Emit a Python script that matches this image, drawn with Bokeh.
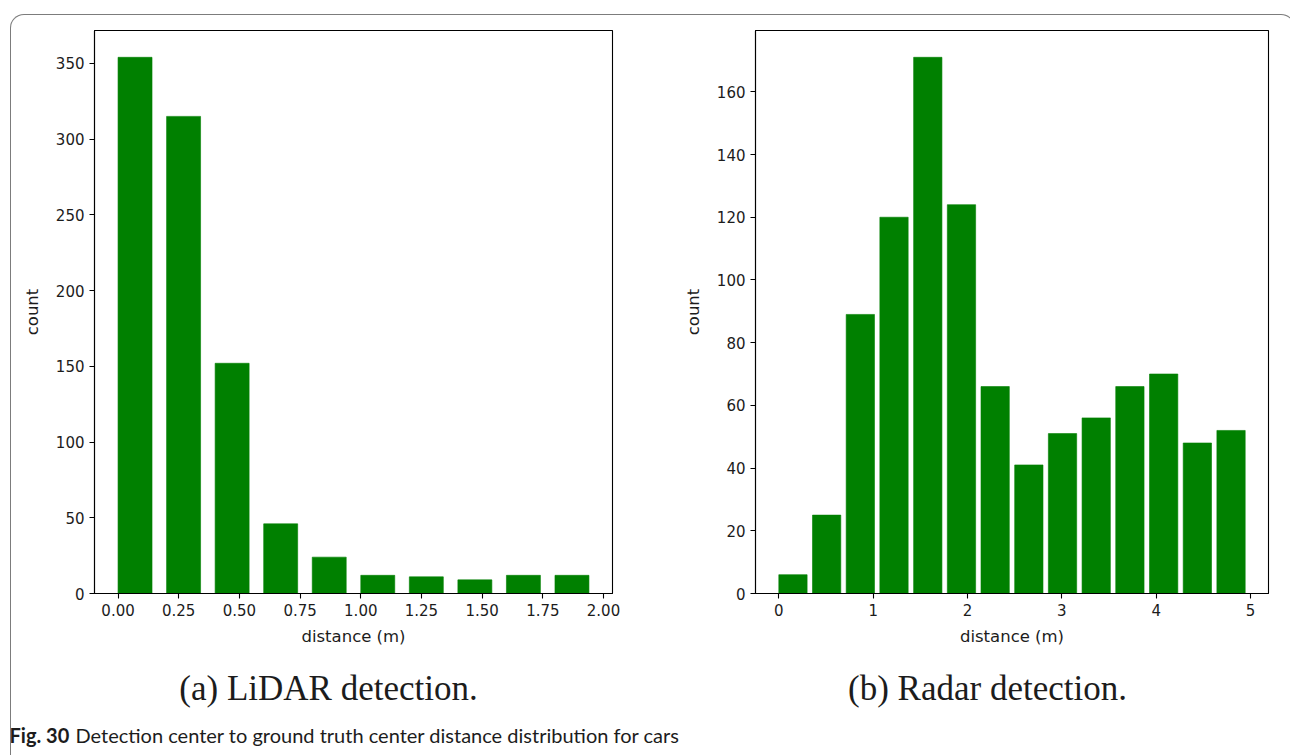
from bokeh.plotting import figure
from bokeh.layouts import row, column
from bokeh.models import Range1d, FixedTicker, PrintfTickFormatter, Div
from bokeh.core.properties import value
from bokeh.embed import file_html
from bokeh.resources import INLINE

# ---- data -------------------------------------------------------------
lidar_bin_start = [0.0, 0.2, 0.4, 0.6, 0.8, 1.0, 1.2, 1.4, 1.6, 1.8]
lidar_counts = [354, 315, 152, 46, 24, 12, 11, 9, 12, 12]
lidar_xticks = [0.0, 0.25, 0.5, 0.75, 1.0, 1.25, 1.5, 1.75, 2.0]
lidar_yticks = [0, 50, 100, 150, 200, 250, 300, 350]

radar_bin_start = [0.000, 0.357, 0.714, 1.071, 1.429, 1.786, 2.143,
                   2.500, 2.857, 3.214, 3.571, 3.929, 4.286, 4.643]
radar_counts = [6, 25, 89, 120, 171, 124, 66, 41, 51, 56, 66, 70, 48, 52]
radar_xticks = [0, 1, 2, 3, 4, 5]
radar_yticks = [0, 20, 40, 60, 80, 100, 120, 140, 160]

x_label = "distance (m)"
y_label = "count"
caption_a = "(a) LiDAR detection."
caption_b = "(b) Radar detection."
fig_no = "Fig. 30"
fig_text = "Detection center to ground truth center distance distribution for cars"

# ---- styling ----------------------------------------------------------
BAR_GREEN = "#008000"
TEXT = "#1c1c1c"
TICK_FONT = "DejaVu Sans"
TICK_SIZE = "15px"
LABEL_SIZE = "16.5px"
CAPTION_FONT = "Liberation Serif"
CAPTION_SIZE = "35px"
FIG_FONT = "Lato"
FIG_SIZE = "20px"
FRAME_GREY = "#7c7c7c"

W_TOTAL = 1290
H_TOTAL = 755
PLOT_TOP = 30          # canvas y of the top spine
PLOT_BOTTOM = 593      # canvas y of the bottom spine
H_CHART = 655
H_CAPTION = H_TOTAL - H_CHART
W_LEFT = 680
W_RIGHT = W_TOTAL - W_LEFT


def hist_panel(width, borders, x_range, y_range, starts, counts,
               bar_width, xticks, yticks, x_fmt=None):
    left_b, right_b = borders
    p = figure(width=width, height=H_CHART, output_backend="svg",
               toolbar_location=None, x_range=x_range, y_range=y_range,
               min_border_left=left_b, min_border_right=right_b,
               min_border_top=PLOT_TOP,
               min_border_bottom=H_CHART - PLOT_BOTTOM)
    p.grid.visible = False
    p.background_fill_color = "white"
    p.border_fill_color = "white"
    p.outline_line_color = "black"
    p.outline_line_width = 1.1

    rights = [s + bar_width for s in starts]
    p.quad(left=starts, right=rights, bottom=0, top=counts,
           fill_color=BAR_GREEN, line_color=BAR_GREEN, line_width=0.6)

    for ax in (p.xaxis[0], p.yaxis[0]):
        ax.axis_line_color = "black"
        ax.axis_line_width = 1.1
        ax.major_tick_line_color = "black"
        ax.major_tick_line_width = 1.1
        ax.major_tick_out = 5
        ax.major_tick_in = 0
        ax.minor_tick_line_color = None
        ax.major_label_text_font = TICK_FONT
        ax.major_label_text_font_size = TICK_SIZE
        ax.major_label_text_color = TEXT
        ax.axis_label_text_font = TICK_FONT
        ax.axis_label_text_font_size = LABEL_SIZE
        ax.axis_label_text_font_style = "normal"
        ax.axis_label_text_color = TEXT

    p.xaxis[0].ticker = FixedTicker(ticks=xticks)
    p.yaxis[0].ticker = FixedTicker(ticks=yticks)
    if x_fmt is not None:
        p.xaxis[0].formatter = x_fmt
    p.xaxis[0].axis_label = x_label
    p.yaxis[0].axis_label = y_label
    p.xaxis[0].major_label_standoff = 5
    p.xaxis[0].axis_label_standoff = 8
    p.yaxis[0].major_label_standoff = 5
    p.yaxis[0].axis_label_standoff = 11
    return p


# LiDAR histogram (bins of 0.2 m)
left = hist_panel(W_LEFT, (94, 68),
                  Range1d(-0.097, 2.037), Range1d(0, 371.7),
                  lidar_bin_start, lidar_counts, 0.14,
                  lidar_xticks, lidar_yticks,
                  x_fmt=PrintfTickFormatter(format="%.2f"))

# Radar histogram (14 bins over 0-5 m)
right = hist_panel(W_RIGHT, (73, 22),
                   Range1d(-0.247, 5.19), Range1d(0, 179.55),
                   radar_bin_start, radar_counts, 0.30,
                   radar_xticks, radar_yticks)

# caption strip: sub-captions and the figure caption, laid out in pixels
cap = figure(width=W_TOTAL, height=H_CAPTION, output_backend="svg",
             toolbar_location=None, x_range=Range1d(0, W_TOTAL),
             y_range=Range1d(H_CAPTION, 0),
             min_border=0, min_border_left=0, min_border_right=0,
             min_border_top=0, min_border_bottom=0)
cap.axis.visible = False
cap.grid.visible = False
cap.outline_line_color = None
cap.background_fill_color = "white"
cap.border_fill_color = "white"

cap.text(x=[328, 987], y=[33, 33], text=[caption_a, caption_b],
         text_align="center", text_baseline="middle",
         text_font=value(CAPTION_FONT), text_font_size=CAPTION_SIZE,
         text_color=TEXT)
cap.text(x=[9], y=[79], text=[fig_no], text_align="left",
         text_baseline="middle", text_font=value(FIG_FONT),
         text_font_style="bold", text_font_size=FIG_SIZE, text_color=TEXT)
cap.text(x=[75], y=[79], text=[fig_text], text_align="left",
         text_baseline="middle", text_font=value(FIG_FONT),
         text_font_size=FIG_SIZE, text_color=TEXT)

# rounded page frame drawn over the whole layout
frame = Div(text="", width=W_TOTAL - 5, height=H_TOTAL - 9,
            styles={"position": "absolute", "left": "5px", "top": "9px",
                    "box-sizing": "border-box",
                    "border": f"1.5px solid {FRAME_GREY}",
                    "border-bottom": "none",
                    "border-radius": "14px 14px 0 0",
                    "pointer-events": "none", "z-index": "10"})

layout = column(row(left, right, spacing=0), cap, frame, spacing=0)
open("out.html", "w").write(file_html(layout, INLINE))
